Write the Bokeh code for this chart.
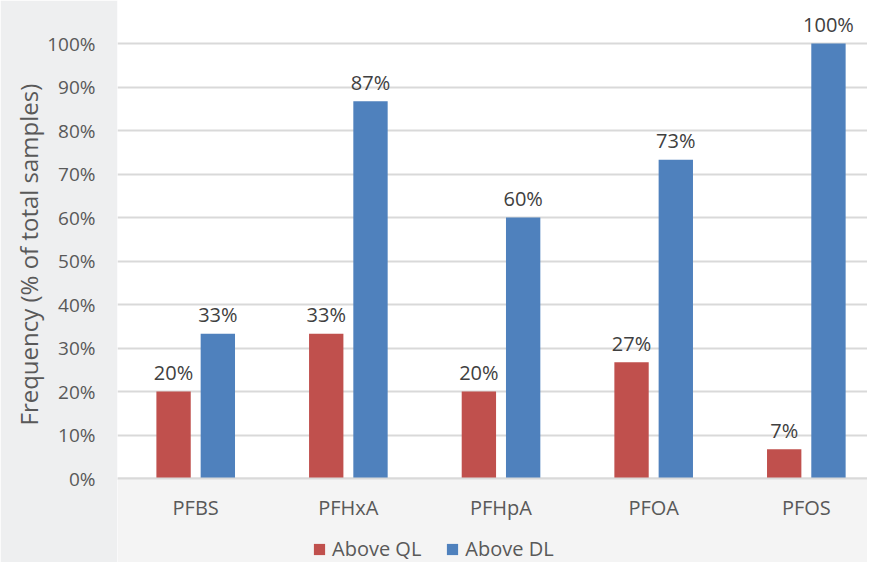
from bokeh.plotting import figure
from bokeh.models import (ColumnDataSource, Legend, LegendItem, FixedTicker, NumeralTickFormatter,
                          Range1d, BoxAnnotation, Title)
from bokeh.core.properties import value
from bokeh.embed import file_html
from bokeh.resources import INLINE

categories = ["PFBS", "PFHxA", "PFHpA", "PFOA", "PFOS"]
above_ql = [0.20, 0.333, 0.20, 0.267, 0.067]
above_dl = [0.333, 0.867, 0.60, 0.733, 1.00]
series_names = ["Above QL", "Above DL"]
colors = ["#C0504D", "#4F81BD"]
y_ticks = [0.0, 0.1, 0.2, 0.3, 0.4, 0.5, 0.6, 0.7, 0.8, 0.9, 1.0]
y_title = "Frequency (% of total samples)"

FONT = "Open Sans"
TXT = "#404040"
GREY_TXT = "#595959"

xs = list(range(len(categories)))
off = 0.145
bw = 0.225

p = figure(width=867, height=562, output_backend="svg", toolbar_location=None,
           x_range=Range1d(-0.5123, 4.4007), y_range=Range1d(-0.1931, 1.0989),
           min_border_left=117, min_border_right=0, min_border_top=0, min_border_bottom=0)
p.background_fill_color = "#ffffff"
p.border_fill_color = "#eeeff0"
p.outline_line_color = None

p.add_layout(BoxAnnotation(top=0, fill_color="#f4f4f4", fill_alpha=1.0, line_color=None, level="underlay"))

renderers = []
for i, (vals, col) in enumerate(zip([above_ql, above_dl], colors)):
    xpos = [x + (-off if i == 0 else off) for x in xs]
    src = ColumnDataSource(dict(x=xpos, top=vals,
                                lab=[f"{round(v*100):d}%" for v in vals]))
    r = p.vbar(x="x", top="top", width=bw, bottom=0, source=src, fill_color=col, line_color=None)
    renderers.append(r)
    p.text(x="x", y="top", text="lab", source=src, text_align="center", text_baseline="alphabetic",
           y_offset=-19, text_font=value(FONT), text_font_size="20px", text_color=TXT)

p.xaxis.fixed_location = 0
p.xaxis.ticker = FixedTicker(ticks=xs)
p.xaxis.major_label_overrides = {i: c for i, c in enumerate(categories)}
p.xaxis.major_tick_line_color = None
p.xaxis.minor_tick_line_color = None
p.xaxis.axis_line_color = "#d9d9d9"
p.xaxis.axis_line_width = 2
p.xaxis.major_label_standoff = 9
p.xaxis.major_label_text_font = FONT
p.xaxis.major_label_text_font_size = "20px"
p.xaxis.major_label_text_color = GREY_TXT

p.yaxis.ticker = FixedTicker(ticks=y_ticks)
p.yaxis.formatter = NumeralTickFormatter(format="0%")
p.yaxis.axis_line_color = None
p.yaxis.major_tick_line_color = None
p.yaxis.minor_tick_line_color = None
p.yaxis.major_label_standoff = 16
p.yaxis.major_label_text_font = FONT
p.yaxis.major_label_text_font_size = "19px"
p.yaxis.major_label_text_color = GREY_TXT

ytitle = Title(text=y_title, align="left", offset=137, text_font=FONT, text_font_size="24px",
               text_font_style="normal", text_color=GREY_TXT, standoff=0)
p.add_layout(ytitle, "left")

p.xgrid.grid_line_color = None
p.ygrid.grid_line_color = "#d9d9d9"
p.ygrid.grid_line_width = 2

legend = Legend(items=[LegendItem(label=n, renderers=[r]) for n, r in zip(series_names, renderers)],
                orientation="horizontal", location=(195, 0))
legend.label_text_font = FONT
legend.label_text_font_size = "20px"
legend.label_text_color = GREY_TXT
legend.glyph_width = 14
legend.glyph_height = 14
legend.spacing = 24
legend.label_standoff = 6
legend.background_fill_alpha = 0
legend.border_line_color = None
legend.padding = 1
legend.margin = 0
p.add_layout(legend, "center")

open("out.html", "w").write(file_html(p, INLINE))
